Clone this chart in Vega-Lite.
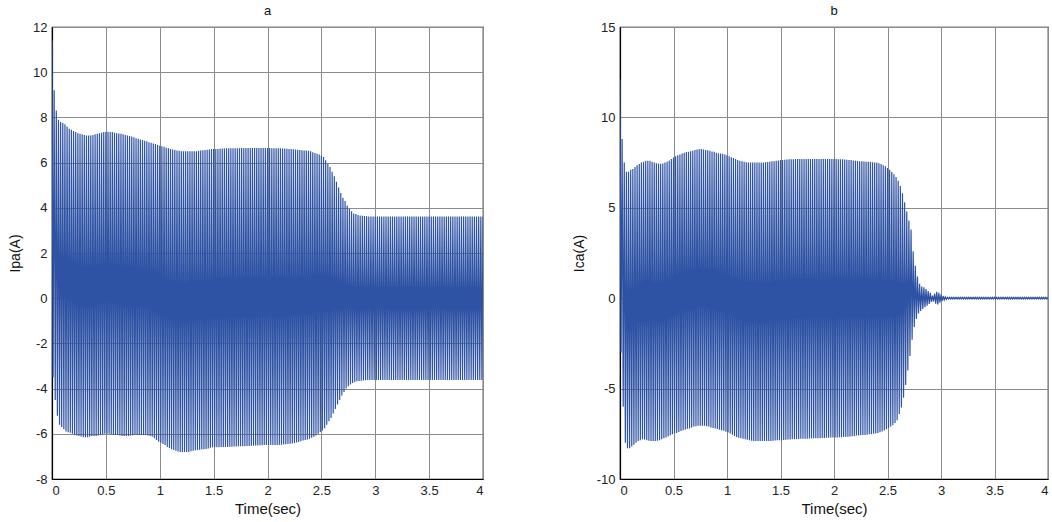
{
  "$schema": "https://vega.github.io/schema/vega-lite/v6.json",
  "background": "white",
  "padding": {"left": 7, "top": 4, "right": 2, "bottom": 2},
  "spacing": 87,
  "data": {"values": [
    {"t":0.00,"a":11.4,"b":12.1},{"t":0.01,"a":-3.5,"b":-3.0},{"t":0.02,"a":9.2,"b":8.8},{"t":0.03,"a":-4.5,"b":-6.0},{"t":0.04,"a":8.3,"b":7.5},{"t":0.05,"a":-5.2,"b":-8.0},
    {"t":0.06,"a":7.9,"b":7.0},{"t":0.07,"a":-5.6,"b":-8.3},{"t":0.08,"a":7.8,"b":7.0},{"t":0.09,"a":-5.7,"b":-8.3},{"t":0.10,"a":7.75,"b":7.1},{"t":0.11,"a":-5.8,"b":-8.2},
    {"t":0.12,"a":7.7,"b":7.15},{"t":0.13,"a":-5.9,"b":-8.1},{"t":0.14,"a":7.6,"b":7.25},{"t":0.15,"a":-5.93,"b":-8.0},{"t":0.16,"a":7.5,"b":7.35},{"t":0.17,"a":-5.95,"b":-7.9},
    {"t":0.18,"a":7.45,"b":7.42},{"t":0.19,"a":-6.0,"b":-7.85},{"t":0.20,"a":7.4,"b":7.5},{"t":0.21,"a":-6.05,"b":-7.8},{"t":0.22,"a":7.35,"b":7.55},{"t":0.23,"a":-6.08,"b":-7.82},
    {"t":0.24,"a":7.3,"b":7.6},{"t":0.25,"a":-6.1,"b":-7.85},{"t":0.26,"a":7.28,"b":7.6},{"t":0.27,"a":-6.12,"b":-7.88},{"t":0.28,"a":7.25,"b":7.6},{"t":0.29,"a":-6.15,"b":-7.9},
    {"t":0.30,"a":7.22,"b":7.55},{"t":0.31,"a":-6.15,"b":-7.9},{"t":0.32,"a":7.2,"b":7.5},{"t":0.33,"a":-6.15,"b":-7.9},{"t":0.34,"a":7.2,"b":7.47},{"t":0.35,"a":-6.13,"b":-7.88},
    {"t":0.36,"a":7.2,"b":7.45},{"t":0.37,"a":-6.1,"b":-7.85},{"t":0.38,"a":7.22,"b":7.43},{"t":0.39,"a":-6.1,"b":-7.8},{"t":0.40,"a":7.25,"b":7.45},{"t":0.41,"a":-6.1,"b":-7.75},
    {"t":0.42,"a":7.28,"b":7.5},{"t":0.43,"a":-6.08,"b":-7.7},{"t":0.44,"a":7.3,"b":7.55},{"t":0.45,"a":-6.05,"b":-7.65},{"t":0.46,"a":7.32,"b":7.62},{"t":0.47,"a":-6.03,"b":-7.58},
    {"t":0.48,"a":7.35,"b":7.7},{"t":0.49,"a":-6.0,"b":-7.52},{"t":0.50,"a":7.35,"b":7.78},{"t":0.51,"a":-6.0,"b":-7.48},{"t":0.52,"a":7.36,"b":7.85},{"t":0.53,"a":-6.0,"b":-7.45},
    {"t":0.54,"a":7.35,"b":7.9},{"t":0.55,"a":-6.02,"b":-7.4},{"t":0.56,"a":7.35,"b":7.95},{"t":0.57,"a":-6.05,"b":-7.35},{"t":0.58,"a":7.32,"b":8.0},{"t":0.59,"a":-6.05,"b":-7.3},
    {"t":0.60,"a":7.3,"b":8.05},{"t":0.61,"a":-6.05,"b":-7.26},{"t":0.62,"a":7.29,"b":8.08},{"t":0.63,"a":-6.08,"b":-7.22},{"t":0.64,"a":7.28,"b":8.1},{"t":0.65,"a":-6.1,"b":-7.2},
    {"t":0.66,"a":7.25,"b":8.13},{"t":0.67,"a":-6.1,"b":-7.15},{"t":0.68,"a":7.22,"b":8.15},{"t":0.69,"a":-6.1,"b":-7.1},{"t":0.70,"a":7.2,"b":8.2},{"t":0.71,"a":-6.1,"b":-7.08},
    {"t":0.72,"a":7.18,"b":8.22},{"t":0.73,"a":-6.08,"b":-7.06},{"t":0.74,"a":7.15,"b":8.24},{"t":0.75,"a":-6.06,"b":-7.05},{"t":0.76,"a":7.12,"b":8.25},{"t":0.77,"a":-6.05,"b":-7.05},
    {"t":0.78,"a":7.08,"b":8.22},{"t":0.79,"a":-6.05,"b":-7.06},{"t":0.80,"a":7.05,"b":8.2},{"t":0.81,"a":-6.05,"b":-7.08},{"t":0.82,"a":7.02,"b":8.18},{"t":0.83,"a":-6.05,"b":-7.1},
    {"t":0.84,"a":7.0,"b":8.15},{"t":0.85,"a":-6.05,"b":-7.15},{"t":0.86,"a":6.97,"b":8.12},{"t":0.87,"a":-6.05,"b":-7.18},{"t":0.88,"a":6.95,"b":8.1},{"t":0.89,"a":-6.08,"b":-7.2},
    {"t":0.90,"a":6.9,"b":8.05},{"t":0.91,"a":-6.1,"b":-7.24},{"t":0.92,"a":6.88,"b":8.02},{"t":0.93,"a":-6.13,"b":-7.28},{"t":0.94,"a":6.85,"b":8.0},{"t":0.95,"a":-6.2,"b":-7.3},
    {"t":0.96,"a":6.82,"b":7.98},{"t":0.97,"a":-6.27,"b":-7.33},{"t":0.98,"a":6.78,"b":7.95},{"t":0.99,"a":-6.35,"b":-7.38},{"t":1.00,"a":6.75,"b":7.9},{"t":1.01,"a":-6.4,"b":-7.43},
    {"t":1.02,"a":6.72,"b":7.85},{"t":1.03,"a":-6.45,"b":-7.48},{"t":1.04,"a":6.7,"b":7.8},{"t":1.05,"a":-6.5,"b":-7.55},{"t":1.06,"a":6.66,"b":7.75},{"t":1.07,"a":-6.58,"b":-7.62},
    {"t":1.08,"a":6.63,"b":7.7},{"t":1.09,"a":-6.63,"b":-7.68},{"t":1.10,"a":6.6,"b":7.65},{"t":1.11,"a":-6.68,"b":-7.72},{"t":1.12,"a":6.58,"b":7.6},{"t":1.13,"a":-6.72,"b":-7.75},
    {"t":1.14,"a":6.56,"b":7.57},{"t":1.15,"a":-6.75,"b":-7.78},{"t":1.16,"a":6.54,"b":7.55},{"t":1.17,"a":-6.78,"b":-7.8},{"t":1.18,"a":6.52,"b":7.52},{"t":1.19,"a":-6.8,"b":-7.83},
    {"t":1.20,"a":6.5,"b":7.5},{"t":1.21,"a":-6.8,"b":-7.85},{"t":1.22,"a":6.5,"b":7.5},{"t":1.23,"a":-6.8,"b":-7.88},{"t":1.24,"a":6.5,"b":7.5},{"t":1.25,"a":-6.8,"b":-7.9},
    {"t":1.26,"a":6.5,"b":7.5},{"t":1.27,"a":-6.8,"b":-7.9},{"t":1.28,"a":6.5,"b":7.5},{"t":1.29,"a":-6.77,"b":-7.9},{"t":1.30,"a":6.5,"b":7.5},{"t":1.31,"a":-6.75,"b":-7.9},
    {"t":1.32,"a":6.5,"b":7.5},{"t":1.33,"a":-6.73,"b":-7.9},{"t":1.34,"a":6.5,"b":7.5},{"t":1.35,"a":-6.72,"b":-7.9},{"t":1.36,"a":6.52,"b":7.52},{"t":1.37,"a":-6.71,"b":-7.9},
    {"t":1.38,"a":6.53,"b":7.53},{"t":1.39,"a":-6.7,"b":-7.9},{"t":1.40,"a":6.55,"b":7.55},{"t":1.41,"a":-6.68,"b":-7.9},{"t":1.42,"a":6.56,"b":7.57},{"t":1.43,"a":-6.67,"b":-7.88},
    {"t":1.44,"a":6.57,"b":7.58},{"t":1.45,"a":-6.65,"b":-7.87},{"t":1.46,"a":6.58,"b":7.6},{"t":1.47,"a":-6.62,"b":-7.86},{"t":1.48,"a":6.6,"b":7.62},{"t":1.49,"a":-6.6,"b":-7.85},
    {"t":1.50,"a":6.6,"b":7.64},{"t":1.51,"a":-6.6,"b":-7.85},{"t":1.52,"a":6.6,"b":7.65},{"t":1.53,"a":-6.6,"b":-7.84},{"t":1.54,"a":6.6,"b":7.66},{"t":1.55,"a":-6.6,"b":-7.83},
    {"t":1.56,"a":6.61,"b":7.67},{"t":1.57,"a":-6.58,"b":-7.82},{"t":1.58,"a":6.62,"b":7.68},{"t":1.59,"a":-6.58,"b":-7.81},{"t":1.60,"a":6.62,"b":7.68},{"t":1.61,"a":-6.58,"b":-7.8},
    {"t":1.62,"a":6.63,"b":7.69},{"t":1.63,"a":-6.58,"b":-7.8},{"t":1.64,"a":6.63,"b":7.7},{"t":1.65,"a":-6.57,"b":-7.8},{"t":1.66,"a":6.63,"b":7.7},{"t":1.67,"a":-6.57,"b":-7.79},
    {"t":1.68,"a":6.64,"b":7.7},{"t":1.69,"a":-6.56,"b":-7.78},{"t":1.70,"a":6.64,"b":7.7},{"t":1.71,"a":-6.56,"b":-7.78},{"t":1.72,"a":6.64,"b":7.7},{"t":1.73,"a":-6.55,"b":-7.78},
    {"t":1.74,"a":6.64,"b":7.7},{"t":1.75,"a":-6.55,"b":-7.77},{"t":1.76,"a":6.65,"b":7.7},{"t":1.77,"a":-6.55,"b":-7.76},{"t":1.78,"a":6.65,"b":7.7},{"t":1.79,"a":-6.55,"b":-7.76},
    {"t":1.80,"a":6.65,"b":7.7},{"t":1.81,"a":-6.54,"b":-7.75},{"t":1.82,"a":6.65,"b":7.7},{"t":1.83,"a":-6.54,"b":-7.75},{"t":1.84,"a":6.65,"b":7.7},{"t":1.85,"a":-6.53,"b":-7.74},
    {"t":1.86,"a":6.65,"b":7.7},{"t":1.87,"a":-6.53,"b":-7.74},{"t":1.88,"a":6.65,"b":7.7},{"t":1.89,"a":-6.52,"b":-7.73},{"t":1.90,"a":6.65,"b":7.7},{"t":1.91,"a":-6.52,"b":-7.73},
    {"t":1.92,"a":6.65,"b":7.7},{"t":1.93,"a":-6.51,"b":-7.72},{"t":1.94,"a":6.65,"b":7.7},{"t":1.95,"a":-6.51,"b":-7.72},{"t":1.96,"a":6.65,"b":7.7},{"t":1.97,"a":-6.5,"b":-7.71},
    {"t":1.98,"a":6.65,"b":7.7},{"t":1.99,"a":-6.5,"b":-7.71},{"t":2.00,"a":6.65,"b":7.7},{"t":2.01,"a":-6.5,"b":-7.7},{"t":2.02,"a":6.65,"b":7.7},{"t":2.03,"a":-6.5,"b":-7.7},
    {"t":2.04,"a":6.64,"b":7.69},{"t":2.05,"a":-6.5,"b":-7.69},{"t":2.06,"a":6.64,"b":7.69},{"t":2.07,"a":-6.5,"b":-7.69},{"t":2.08,"a":6.64,"b":7.68},{"t":2.09,"a":-6.49,"b":-7.68},
    {"t":2.10,"a":6.63,"b":7.67},{"t":2.11,"a":-6.49,"b":-7.67},{"t":2.12,"a":6.63,"b":7.66},{"t":2.13,"a":-6.48,"b":-7.66},{"t":2.14,"a":6.62,"b":7.65},{"t":2.15,"a":-6.47,"b":-7.65},
    {"t":2.16,"a":6.62,"b":7.64},{"t":2.17,"a":-6.46,"b":-7.63},{"t":2.18,"a":6.61,"b":7.62},{"t":2.19,"a":-6.45,"b":-7.62},{"t":2.20,"a":6.6,"b":7.6},{"t":2.21,"a":-6.44,"b":-7.6},
    {"t":2.22,"a":6.6,"b":7.59},{"t":2.23,"a":-6.43,"b":-7.59},{"t":2.24,"a":6.59,"b":7.58},{"t":2.25,"a":-6.41,"b":-7.58},{"t":2.26,"a":6.58,"b":7.57},{"t":2.27,"a":-6.39,"b":-7.57},
    {"t":2.28,"a":6.57,"b":7.56},{"t":2.29,"a":-6.36,"b":-7.56},{"t":2.30,"a":6.56,"b":7.55},{"t":2.31,"a":-6.33,"b":-7.55},{"t":2.32,"a":6.55,"b":7.54},{"t":2.33,"a":-6.3,"b":-7.53},
    {"t":2.34,"a":6.54,"b":7.53},{"t":2.35,"a":-6.27,"b":-7.52},{"t":2.36,"a":6.53,"b":7.52},{"t":2.37,"a":-6.25,"b":-7.5},{"t":2.38,"a":6.52,"b":7.51},{"t":2.39,"a":-6.22,"b":-7.48},
    {"t":2.40,"a":6.5,"b":7.5},{"t":2.41,"a":-6.18,"b":-7.45},{"t":2.42,"a":6.46,"b":7.46},{"t":2.43,"a":-6.13,"b":-7.41},{"t":2.44,"a":6.42,"b":7.42},{"t":2.45,"a":-6.08,"b":-7.37},
    {"t":2.46,"a":6.39,"b":7.36},{"t":2.47,"a":-6.0,"b":-7.32},{"t":2.48,"a":6.36,"b":7.3},{"t":2.49,"a":-5.92,"b":-7.25},{"t":2.50,"a":6.3,"b":7.2},{"t":2.51,"a":-5.85,"b":-7.18},
    {"t":2.52,"a":6.25,"b":7.1},{"t":2.53,"a":-5.75,"b":-7.1},{"t":2.54,"a":6.1,"b":6.98},{"t":2.55,"a":-5.6,"b":-7.02},{"t":2.56,"a":5.95,"b":6.85},{"t":2.57,"a":-5.45,"b":-6.9},
    {"t":2.58,"a":5.8,"b":6.7},{"t":2.59,"a":-5.3,"b":-6.75},{"t":2.60,"a":5.6,"b":6.5},{"t":2.61,"a":-5.1,"b":-6.4},{"t":2.62,"a":5.4,"b":6.2},{"t":2.63,"a":-4.9,"b":-6.05},
    {"t":2.64,"a":5.15,"b":5.8},{"t":2.65,"a":-4.7,"b":-5.5},{"t":2.66,"a":4.9,"b":5.3},{"t":2.67,"a":-4.5,"b":-4.8},{"t":2.68,"a":4.65,"b":4.8},{"t":2.69,"a":-4.3,"b":-4.0},
    {"t":2.70,"a":4.45,"b":4.3},{"t":2.71,"a":-4.15,"b":-3.2},{"t":2.72,"a":4.3,"b":3.8},{"t":2.73,"a":-4.0,"b":-2.3},{"t":2.74,"a":4.1,"b":2.6},{"t":2.75,"a":-3.9,"b":-1.6},
    {"t":2.76,"a":3.95,"b":1.8},{"t":2.77,"a":-3.82,"b":-1.15},{"t":2.78,"a":3.85,"b":1.2},{"t":2.79,"a":-3.75,"b":-0.85},{"t":2.80,"a":3.75,"b":0.8},{"t":2.81,"a":-3.71,"b":-0.7},
    {"t":2.82,"a":3.72,"b":0.65},{"t":2.83,"a":-3.68,"b":-0.6},{"t":2.84,"a":3.68,"b":0.6},{"t":2.85,"a":-3.66,"b":-0.5},{"t":2.86,"a":3.66,"b":0.5},{"t":2.87,"a":-3.65,"b":-0.42},
    {"t":2.88,"a":3.65,"b":0.4},{"t":2.89,"a":-3.64,"b":-0.32},{"t":2.90,"a":3.64,"b":0.3},{"t":2.91,"a":-3.63,"b":-0.2},{"t":2.92,"a":3.63,"b":0.15},{"t":2.93,"a":-3.62,"b":-0.18},
    {"t":2.94,"a":3.62,"b":0.25},{"t":2.95,"a":-3.62,"b":-0.3},{"t":2.96,"a":3.62,"b":0.35},{"t":2.97,"a":-3.62,"b":-0.35},{"t":2.98,"a":3.62,"b":0.3},{"t":2.99,"a":-3.62,"b":-0.25},
    {"t":3.00,"a":3.62,"b":0.2},{"t":3.01,"a":-3.62,"b":-0.15},{"t":3.02,"a":3.62,"b":0.12},{"t":3.03,"a":-3.62,"b":-0.1},{"t":3.04,"a":3.62,"b":0.07},{"t":3.05,"a":-3.62,"b":-0.06},
    {"t":3.06,"a":3.62,"b":0.05},{"t":3.07,"a":-3.62,"b":-0.04},{"t":3.08,"a":3.62,"b":0.05},{"t":3.09,"a":-3.62,"b":-0.04},{"t":3.10,"a":3.62,"b":0.05},{"t":3.11,"a":-3.62,"b":-0.04},
    {"t":3.12,"a":3.62,"b":0.05},{"t":3.13,"a":-3.62,"b":-0.04},{"t":3.14,"a":3.62,"b":0.05},{"t":3.15,"a":-3.62,"b":-0.04},{"t":3.16,"a":3.62,"b":0.05},{"t":3.17,"a":-3.62,"b":-0.04},
    {"t":3.18,"a":3.62,"b":0.05},{"t":3.19,"a":-3.62,"b":-0.04},{"t":3.20,"a":3.62,"b":0.05},{"t":3.21,"a":-3.62,"b":-0.04},{"t":3.22,"a":3.62,"b":0.05},{"t":3.23,"a":-3.62,"b":-0.04},
    {"t":3.24,"a":3.62,"b":0.05},{"t":3.25,"a":-3.62,"b":-0.04},{"t":3.26,"a":3.62,"b":0.05},{"t":3.27,"a":-3.62,"b":-0.04},{"t":3.28,"a":3.62,"b":0.05},{"t":3.29,"a":-3.62,"b":-0.04},
    {"t":3.30,"a":3.62,"b":0.05},{"t":3.31,"a":-3.62,"b":-0.04},{"t":3.32,"a":3.62,"b":0.05},{"t":3.33,"a":-3.62,"b":-0.04},{"t":3.34,"a":3.62,"b":0.05},{"t":3.35,"a":-3.62,"b":-0.04},
    {"t":3.36,"a":3.62,"b":0.05},{"t":3.37,"a":-3.62,"b":-0.04},{"t":3.38,"a":3.62,"b":0.05},{"t":3.39,"a":-3.62,"b":-0.04},{"t":3.40,"a":3.62,"b":0.05},{"t":3.41,"a":-3.62,"b":-0.04},
    {"t":3.42,"a":3.62,"b":0.05},{"t":3.43,"a":-3.62,"b":-0.04},{"t":3.44,"a":3.62,"b":0.05},{"t":3.45,"a":-3.62,"b":-0.04},{"t":3.46,"a":3.62,"b":0.05},{"t":3.47,"a":-3.62,"b":-0.04},
    {"t":3.48,"a":3.62,"b":0.05},{"t":3.49,"a":-3.62,"b":-0.04},{"t":3.50,"a":3.62,"b":0.05},{"t":3.51,"a":-3.62,"b":-0.04},{"t":3.52,"a":3.62,"b":0.05},{"t":3.53,"a":-3.62,"b":-0.04},
    {"t":3.54,"a":3.62,"b":0.05},{"t":3.55,"a":-3.62,"b":-0.04},{"t":3.56,"a":3.62,"b":0.05},{"t":3.57,"a":-3.62,"b":-0.04},{"t":3.58,"a":3.62,"b":0.05},{"t":3.59,"a":-3.62,"b":-0.04},
    {"t":3.60,"a":3.62,"b":0.05},{"t":3.61,"a":-3.62,"b":-0.04},{"t":3.62,"a":3.62,"b":0.05},{"t":3.63,"a":-3.62,"b":-0.04},{"t":3.64,"a":3.62,"b":0.05},{"t":3.65,"a":-3.62,"b":-0.04},
    {"t":3.66,"a":3.62,"b":0.05},{"t":3.67,"a":-3.62,"b":-0.04},{"t":3.68,"a":3.62,"b":0.05},{"t":3.69,"a":-3.62,"b":-0.04},{"t":3.70,"a":3.62,"b":0.05},{"t":3.71,"a":-3.62,"b":-0.04},
    {"t":3.72,"a":3.62,"b":0.05},{"t":3.73,"a":-3.62,"b":-0.04},{"t":3.74,"a":3.62,"b":0.05},{"t":3.75,"a":-3.62,"b":-0.04},{"t":3.76,"a":3.62,"b":0.05},{"t":3.77,"a":-3.62,"b":-0.04},
    {"t":3.78,"a":3.62,"b":0.05},{"t":3.79,"a":-3.62,"b":-0.04},{"t":3.80,"a":3.62,"b":0.05},{"t":3.81,"a":-3.62,"b":-0.04},{"t":3.82,"a":3.62,"b":0.05},{"t":3.83,"a":-3.62,"b":-0.04},
    {"t":3.84,"a":3.62,"b":0.05},{"t":3.85,"a":-3.62,"b":-0.04},{"t":3.86,"a":3.62,"b":0.05},{"t":3.87,"a":-3.62,"b":-0.04},{"t":3.88,"a":3.62,"b":0.05},{"t":3.89,"a":-3.62,"b":-0.04},
    {"t":3.90,"a":3.62,"b":0.05},{"t":3.91,"a":-3.62,"b":-0.04},{"t":3.92,"a":3.62,"b":0.05},{"t":3.93,"a":-3.62,"b":-0.04},{"t":3.94,"a":3.62,"b":0.05},{"t":3.95,"a":-3.62,"b":-0.04},
    {"t":3.96,"a":3.62,"b":0.05},{"t":3.97,"a":-3.62,"b":-0.04},{"t":3.98,"a":3.62,"b":0.05},{"t":3.99,"a":-3.62,"b":-0.04},{"t":4.00,"a":3.62,"b":0.05}
  ]},
  "hconcat": [
    {
      "width": 431,
      "height": 452,
      "title": {"text": "a"},
      "mark": {"type": "line", "color": "#2f53a4", "strokeWidth": 1.2, "clip": true},
      "encoding": {
        "x": {"field": "t", "type": "quantitative", "title": "Time(sec)",
              "scale": {"domain": [0, 4], "nice": false, "zero": false},
              "axis": {"values": [0, 0.5, 1, 1.5, 2, 2.5, 3, 3.5, 4], "labelExpr": "'' + datum.value"}},
        "y": {"field": "a", "type": "quantitative", "title": "Ipa(A)",
              "scale": {"domain": [-8, 12], "nice": false, "zero": false},
              "axis": {"values": [-8, -6, -4, -2, 0, 2, 4, 6, 8, 10, 12], "labelExpr": "'' + datum.value"}}
      }
    },
    {
      "width": 428,
      "height": 452,
      "title": {"text": "b"},
      "mark": {"type": "line", "color": "#2f53a4", "strokeWidth": 1.2, "clip": true},
      "encoding": {
        "x": {"field": "t", "type": "quantitative", "title": "Time(sec)",
              "scale": {"domain": [0, 4], "nice": false, "zero": false},
              "axis": {"values": [0, 0.5, 1, 1.5, 2, 2.5, 3, 3.5, 4], "labelExpr": "'' + datum.value"}},
        "y": {"field": "b", "type": "quantitative", "title": "Ica(A)",
              "scale": {"domain": [-10, 15], "nice": false, "zero": false},
              "axis": {"values": [-10, -5, 0, 5, 10, 15], "labelExpr": "'' + datum.value"}}
      }
    }
  ],
  "config": {
    "font": "Liberation Sans",
    "view": {"stroke": "#000000", "strokeWidth": 1.2},
    "title": {"fontSize": 13, "fontWeight": "normal", "color": "#111111", "offset": 3, "font": "Liberation Sans"},
    "axis": {
      "domainColor": "#000000",
      "domainWidth": 1.2,
      "ticks": false,
      "grid": true,
      "gridColor": "#8c8c8c",
      "gridOpacity": 1,
      "gridWidth": 1,
      "labelFont": "Liberation Sans",
      "labelFontSize": 13,
      "labelColor": "#222222",
      "titleFont": "Liberation Sans",
      "titleFontWeight": "normal",
      "titleColor": "#111111"
    },
    "axisX": {"labelPadding": 5, "titleFontSize": 15, "titlePadding": 4},
    "axisY": {"labelPadding": 5, "titleFontSize": 14, "titlePadding": 10}
  }
}
